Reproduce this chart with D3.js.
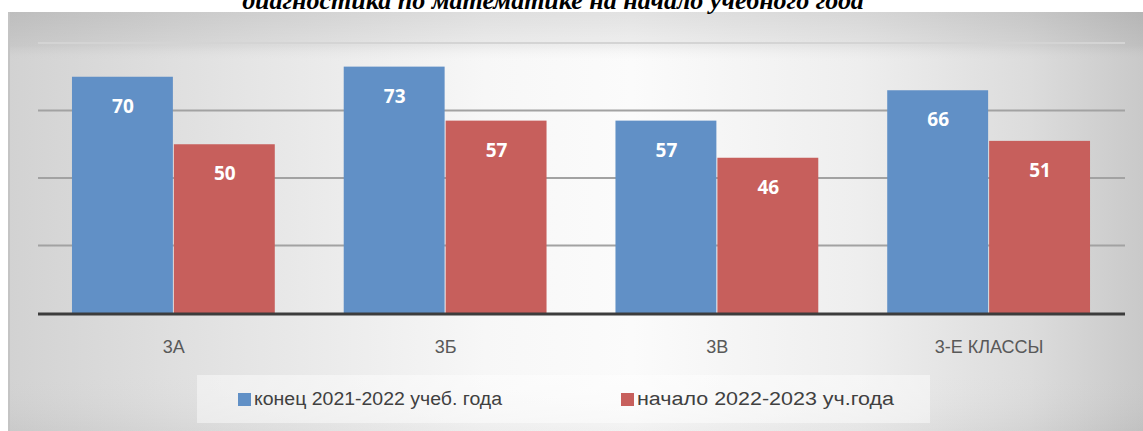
<!DOCTYPE html>
<html><head><meta charset="utf-8">
<script src="https://cdn.jsdelivr.net/npm/d3@7"></script>
<style>html,body{margin:0;padding:0;background:#fff;overflow:hidden}</style>
</head><body>
<svg id="c" width="1143" height="431"></svg>
<script>
const categories = ["3А", "3Б", "3В", "3-Е КЛАССЫ"];
const seriesNames = ["конец 2021-2022 учеб. года", "начало 2022-2023 уч.года"];
const seriesEnd2122 = [70, 73, 57, 66];
const seriesStart2223 = [50, 57, 46, 51];
const yTicks = [0, 20, 40, 60, 80];
const title = "диагностика по математике на начало учебного года";
const colors = ["#6190c6", "#c75f5c"];

const svg = d3.select("#c");
const defs = svg.append("defs");
const hg = defs.append("linearGradient").attr("id","hg").attr("x1","0").attr("x2","1").attr("y1","0").attr("y2","0");
[[0,"#d2d2d2"],[0.2,"#e4e4e4"],[0.42,"#f7f7f7"],[0.55,"#fbfbfb"],[0.75,"#eeeeee"],[0.9,"#dcdcdc"],[1,"#c9c9c9"]]
  .forEach(([o,c])=>hg.append("stop").attr("offset",o).attr("stop-color",c));
const vg = defs.append("linearGradient").attr("id","vg").attr("x1","0").attr("x2","0").attr("y1","0").attr("y2","1");
[[0,"#000",0.10],[0.08,"#000",0.05],[0.12,"#fff",0],[0.85,"#fff",0],[1,"#000",0.04]]
  .forEach(([o,c,a])=>vg.append("stop").attr("offset",o).attr("stop-color",c).attr("stop-opacity",a));

// background panel
svg.append("rect").attr("x",8).attr("y",12).attr("width",1135).attr("height",419).attr("fill","url(#hg)");
svg.append("rect").attr("x",8).attr("y",12).attr("width",1135).attr("height",419).attr("fill","url(#vg)");
svg.append("rect").attr("x",8).attr("y",12).attr("width",2).attr("height",419).attr("fill","#c4c4c4");

// title (clipped at top, as in the reference)
svg.append("text").attr("x",553).attr("y",9).attr("text-anchor","middle")
  .attr("font-family","Liberation Serif, Times New Roman, serif").attr("font-weight","bold").attr("font-style","italic")
  .attr("font-size",26).attr("fill","#000").text(title);

const x0 = d3.scaleBand().domain(categories).range([38,1125]).paddingInner(0.25).paddingOuter(0.125);
const x1 = d3.scaleBand().domain([0,1]).range([0,x0.bandwidth()]);
const y = d3.scaleLinear().domain([0,80]).range([313,43]);

// gridlines
svg.append("g").selectAll("line").data(yTicks.filter(t=>t>0)).join("line")
  .attr("x1",38).attr("x2",1125).attr("y1",d=>y(d)).attr("y2",d=>y(d))
  .attr("stroke",d=>d===80?"#d4d4d4":"#a2a2a2").attr("stroke-width",2);

const series = [seriesEnd2122, seriesStart2223];
const rows = categories.map((c,i)=>({c, vals: series.map((s,k)=>({k, v:s[i]}))}));
const g = svg.append("g").selectAll("g").data(rows).join("g").attr("transform",d=>`translate(${x0(d.c)},0)`);
g.selectAll("rect").data(d=>d.vals).join("rect")
  .attr("x",d=>x1(d.k)).attr("width",x1.bandwidth()-1)
  .attr("y",d=>y(d.v)).attr("height",d=>y(0)-y(d.v)).attr("fill",d=>colors[d.k]);
g.selectAll("text").data(d=>d.vals).join("text")
  .attr("x",d=>x1(d.k)+x1.bandwidth()/2).attr("y",d=>y(d.v)+36).attr("text-anchor","middle")
  .attr("font-family","Open Sans, Liberation Sans, sans-serif").attr("font-weight","bold").attr("font-size",19)
  .attr("fill","#fff").text(d=>d.v);

// axis line
svg.append("line").attr("x1",38).attr("x2",1125).attr("y1",y(0)+1).attr("y2",y(0)+1).attr("stroke","#3c3c3c").attr("stroke-width",3);

// category labels
const xa = svg.append("g").attr("transform",`translate(0,${y(0)})`).call(d3.axisBottom(x0).tickSize(0).tickPadding(0));
xa.select(".domain").remove();
xa.selectAll("text").attr("y",40).attr("dy",0).attr("font-family","Liberation Sans, Arial, sans-serif")
  .attr("font-size",18).attr("fill","#595959");

// legend
svg.append("rect").attr("x",197).attr("y",375).attr("width",733).attr("height",48).attr("fill","#fff").attr("opacity",0.45);
const legX = [238, 621];
const lg = svg.append("g").selectAll("g").data(seriesNames).join("g").attr("transform",(d,i)=>`translate(${legX[i]},393)`);
lg.append("rect").attr("width",13).attr("height",13).attr("fill",(d,i)=>colors[i]);
lg.append("text").attr("x",16).attr("y",12).attr("font-family","Liberation Sans, Arial, sans-serif")
  .attr("font-size",18).attr("fill","#404040").text(d=>d)
  .each(function(d,i){ const w=[248,257][i]; this.setAttribute("textLength", w); this.setAttribute("lengthAdjust","spacingAndGlyphs"); });
</script>
</body></html>
